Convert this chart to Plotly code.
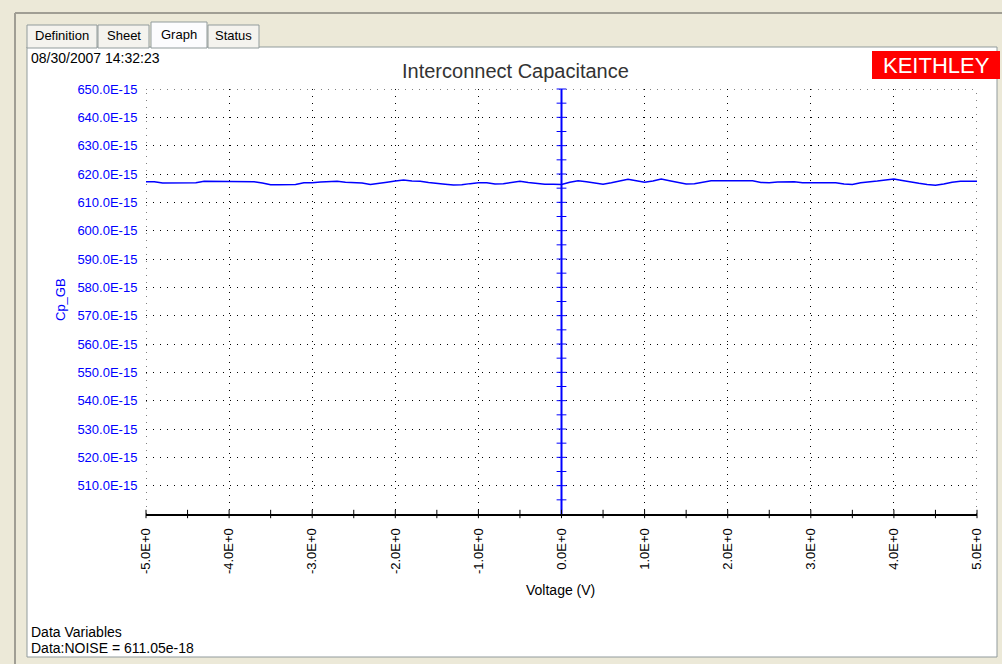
import plotly.graph_objects as go

# ---------------- data ----------------
voltage = [
    -5.0, -4.9, -4.8, -4.7, -4.6, -4.5, -4.4, -4.3, -4.2, -4.1,
    -4.0, -3.9, -3.8, -3.7, -3.6, -3.5, -3.4, -3.3, -3.2, -3.1,
    -3.0, -2.9, -2.8, -2.7, -2.6, -2.5, -2.4, -2.3, -2.2, -2.1,
    -2.0, -1.9, -1.8, -1.7, -1.6, -1.5, -1.4, -1.3, -1.2, -1.1,
    -1.0, -0.9, -0.8, -0.7, -0.6, -0.5, -0.4, -0.3, -0.2, -0.1,
    0.0, 0.1, 0.2, 0.3, 0.4, 0.5, 0.6, 0.7, 0.8, 0.9,
    1.0, 1.1, 1.2, 1.3, 1.4, 1.5, 1.6, 1.7, 1.8, 1.9,
    2.0, 2.1, 2.2, 2.3, 2.4, 2.5, 2.6, 2.7, 2.8, 2.9,
    3.0, 3.1, 3.2, 3.3, 3.4, 3.5, 3.6, 3.7, 3.8, 3.9,
    4.0, 4.1, 4.2, 4.3, 4.4, 4.5, 4.6, 4.7, 4.8, 4.9, 5.0,
]
cp_gb_fF = [
    617.3, 617.3, 616.8, 616.8, 616.8, 616.8, 616.9, 617.4, 617.4, 617.4,
    617.4, 617.4, 617.4, 617.3, 616.8, 616.2, 616.2, 616.2, 616.3, 616.9,
    616.9, 617.2, 617.4, 617.4, 617.1, 616.9, 616.8, 616.3, 616.6, 617.1,
    617.5, 617.9, 617.5, 617.4, 617.0, 616.8, 616.4, 616.1, 616.2, 616.6,
    616.9, 616.9, 616.5, 616.6, 617.0, 617.4, 617.0, 616.6, 616.4, 616.4,
    616.3, 617.1, 617.6, 617.3, 616.9, 616.4, 616.9, 617.5, 618.1, 617.6,
    617.1, 617.5, 618.2, 617.6, 617.1, 616.5, 616.6, 617.1, 617.6, 617.6,
    617.6, 617.6, 617.6, 617.6, 617.0, 616.9, 617.2, 617.3, 617.3, 616.9,
    616.9, 616.9, 616.9, 616.9, 616.5, 616.3, 616.9, 617.1, 617.5, 617.9,
    618.2, 617.7, 617.1, 616.7, 616.3, 616.0, 616.5, 617.1, 617.4, 617.4, 617.4,
]
y_tick_vals = [510, 520, 530, 540, 550, 560, 570, 580, 590, 600, 610, 620, 630, 640, 650]
y_tick_text = ["510.0E-15", "520.0E-15", "530.0E-15", "540.0E-15", "550.0E-15",
               "560.0E-15", "570.0E-15", "580.0E-15", "590.0E-15", "600.0E-15",
               "610.0E-15", "620.0E-15", "630.0E-15", "640.0E-15", "650.0E-15"]
x_tick_vals = [-5, -4, -3, -2, -1, 0, 1, 2, 3, 4, 5]
x_tick_text = ["-5.0E+0", "-4.0E+0", "-3.0E+0", "-2.0E+0", "-1.0E+0", "0.0E+0",
               "1.0E+0", "2.0E+0", "3.0E+0", "4.0E+0", "5.0E+0"]
x_minor_ticks = [-5, -4.5, -4, -3.5, -3, -2.5, -2, -1.5, -1, -0.5, 0,
                 0.5, 1, 1.5, 2, 2.5, 3, 3.5, 4, 4.5, 5]
y_axis_ticks = [505, 510, 515, 520, 525, 530, 535, 540, 545, 550, 555, 560, 565, 570,
                575, 580, 585, 590, 595, 600, 605, 610, 615, 620, 625, 630, 635, 640, 645, 650]
tabs = ["Definition", "Sheet", "Graph", "Status"]

# ---------------- geometry ----------------
W, H = 1002, 664
L, R, T, B = 146, 977, 89, 514
X_MIN, X_MAX = -5, 5
Y_MIN, Y_MAX = 500, 650


def px(x):
    return (x - L) / (R - L)


def py(y):
    return (B - y) / (B - T)


BLUE = "#0000FF"
BEIGE = "#ECE9D8"
FONT = "Arial, Liberation Sans, sans-serif"
DOT = "1px,6px"

fig = go.Figure()

# blue vertical axis at V = 0
fig.add_trace(go.Scatter(x=[0, 0], y=[Y_MIN, Y_MAX], mode="lines",
                         line=dict(color=BLUE, width=2), hoverinfo="skip",
                         showlegend=False, cliponaxis=False))
fig.add_trace(go.Scatter(x=[0] * len(y_axis_ticks), y=y_axis_ticks, mode="markers",
                         marker=dict(symbol="line-ew", size=7,
                                     line=dict(color=BLUE, width=1)),
                         hoverinfo="skip", showlegend=False, cliponaxis=False))
# crossing ticks on the x axis
fig.add_trace(go.Scatter(x=x_minor_ticks, y=[Y_MIN] * len(x_minor_ticks), mode="markers",
                         marker=dict(symbol="line-ns", size=6,
                                     line=dict(color="black", width=1)),
                         hoverinfo="skip", showlegend=False, cliponaxis=False))
# data
fig.add_trace(go.Scatter(x=voltage, y=cp_gb_fF, mode="lines",
                         line=dict(color=BLUE, width=1.5), showlegend=False))

fig.update_xaxes(range=[X_MIN, X_MAX], tickvals=x_tick_vals, ticktext=x_tick_text,
                 tickangle=-90, tickfont=dict(family=FONT, size=13, color="black"),
                 ticks="outside", ticklen=7, tickcolor="rgba(0,0,0,0)",
                 showgrid=True, gridcolor="black", gridwidth=1, griddash=DOT,
                 zeroline=False, showline=True, linecolor="black", linewidth=2,
                 automargin=False, fixedrange=True)
fig.update_yaxes(range=[Y_MIN, Y_MAX], tickvals=y_tick_vals, ticktext=y_tick_text,
                 tickfont=dict(family=FONT, size=13, color=BLUE),
                 ticks="outside", ticklen=5, tickcolor="rgba(0,0,0,0)",
                 showgrid=True, gridcolor="black", gridwidth=1, griddash=DOT,
                 zeroline=False, showline=False, automargin=False, fixedrange=True)

shapes = []
# outer frame lines
shapes.append(dict(type="line", xref="paper", yref="paper", x0=px(15), x1=px(15),
                   y0=py(13), y1=py(H), line=dict(color="#A09E94", width=2), layer="below"))
shapes.append(dict(type="line", xref="paper", yref="paper", x0=px(15), x1=px(W),
                   y0=py(13), y1=py(13), line=dict(color="#A09E94", width=2), layer="below"))
# white panel
shapes.append(dict(type="rect", xref="paper", yref="paper", x0=px(27), x1=px(997),
                   y0=py(657), y1=py(47), fillcolor="white",
                   line=dict(color="#919B9C", width=1), layer="below"))
# edge gridlines (top and left/right borders of the plot area), dotted
shapes.append(dict(type="line", xref="paper", yref="y", x0=0, x1=1, y0=Y_MAX, y1=Y_MAX,
                   line=dict(color="black", width=1, dash=DOT), layer="below"))
shapes.append(dict(type="line", xref="x", yref="paper", x0=X_MIN, x1=X_MIN, y0=0, y1=1,
                   line=dict(color="black", width=1, dash=DOT), layer="below"))
shapes.append(dict(type="line", xref="x", yref="paper", x0=X_MAX, x1=X_MAX, y0=0, y1=1,
                   line=dict(color="black", width=1, dash=DOT), layer="below"))
# tabs
tab_x = [(27, 97), (98, 149), (151, 207), (208, 259)]
for i, (x0, x1) in enumerate(tab_x):
    top = 22 if tabs[i] == "Graph" else 25
    fill = "#FCFCFE" if tabs[i] == "Graph" else "#F4F3EE"
    shapes.append(dict(type="rect", xref="paper", yref="paper", x0=px(x0), x1=px(x1),
                       y0=py(48), y1=py(top), fillcolor=fill,
                       line=dict(color="#919B9C", width=1), layer="below"))
# Keithley logo box
shapes.append(dict(type="rect", xref="paper", yref="paper", x0=px(872), x1=px(1000),
                   y0=py(79), y1=py(51), fillcolor="#FF0000", line=dict(width=0),
                   layer="above"))
fig.update_layout(shapes=shapes)

ann = []
for i, (x0, x1) in enumerate(tab_x):
    yc = 34 if tabs[i] == "Graph" else 36
    ann.append(dict(text=tabs[i], x=px((x0 + x1) / 2), y=py(yc), xref="paper", yref="paper",
                    showarrow=False, xanchor="center", yanchor="middle",
                    font=dict(family=FONT, size=13, color="black")))
ann.append(dict(text="08/30/2007 14:32:23", x=px(29), y=py(58), xref="paper", yref="paper",
                showarrow=False, xanchor="left", yanchor="middle",
                font=dict(family=FONT, size=14, color="black")))
ann.append(dict(text="Interconnect Capacitance", x=px(515), y=py(71), xref="paper",
                yref="paper", showarrow=False, xanchor="center", yanchor="middle",
                font=dict(family=FONT, size=20, color="#333333")))
ann.append(dict(text="KEITHLEY", x=px(936), y=py(65), xref="paper", yref="paper",
                showarrow=False, xanchor="center", yanchor="middle",
                font=dict(family=FONT, size=22, color="white")))
ann.append(dict(text="Cp_GB", x=px(60), y=py(300), xref="paper", yref="paper",
                showarrow=False, xanchor="center", yanchor="middle", textangle=-90,
                font=dict(family=FONT, size=13, color=BLUE)))
ann.append(dict(text="Voltage (V)", x=px(560), y=py(590), xref="paper", yref="paper",
                showarrow=False, xanchor="center", yanchor="middle",
                font=dict(family=FONT, size=14, color="black")))
ann.append(dict(text="Data Variables", x=px(29), y=py(632), xref="paper", yref="paper",
                showarrow=False, xanchor="left", yanchor="middle",
                font=dict(family=FONT, size=14, color="black")))
ann.append(dict(text="Data:NOISE = 611.05e-18", x=px(29), y=py(648), xref="paper",
                yref="paper", showarrow=False, xanchor="left", yanchor="middle",
                font=dict(family=FONT, size=14, color="black")))

fig.update_layout(annotations=ann, width=W, height=H,
                  margin=dict(l=L, r=W - R, t=T, b=H - B, autoexpand=False),
                  paper_bgcolor=BEIGE, plot_bgcolor="white",
                  font=dict(family=FONT), showlegend=False, hovermode=False)

fig.write_html("out.html", config={"displayModeBar": False},
               post_script="document.body.style.margin='0';"
                           "document.body.style.overflow='hidden';")
